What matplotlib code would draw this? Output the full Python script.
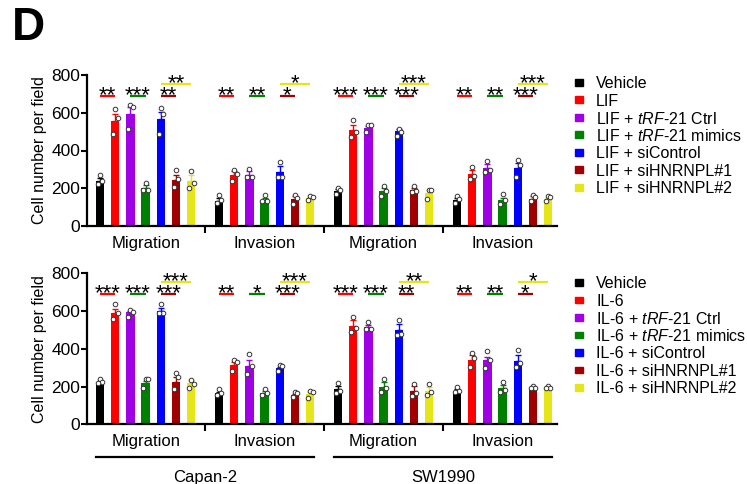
import matplotlib
matplotlib.use('Agg')
import matplotlib.pyplot as plt
import matplotlib.patches as patches
import matplotlib.transforms as mtransforms

plt.rcParams['font.family'] = ['Liberation Sans', 'DejaVu Sans']
plt.rcParams['mathtext.fontset'] = 'custom'
plt.rcParams['mathtext.rm'] = 'Liberation Sans'
plt.rcParams['mathtext.it'] = 'Liberation Sans:italic'

groups = ['Migration', 'Invasion', 'Migration', 'Invasion']
cell_lines = ['Capan-2', 'SW1990']
colors = ['#000000', '#FF0000', '#A000E6', '#008000', '#0000FF', '#A00000', '#E5E51A']

lif_labels = ['Vehicle', 'LIF', r'LIF + $\mathit{tRF}$-$\mathit{21}$ Ctrl',
              r'LIF + $\mathit{tRF}$-$\mathit{21}$ mimics', 'LIF + siControl',
              'LIF + siHNRNPL#1', 'LIF + siHNRNPL#2']
il6_labels = ['Vehicle', 'IL-6', r'IL-6 + $\mathit{tRF}$-$\mathit{21}$ Ctrl',
              r'IL-6 + $\mathit{tRF}$-$\mathit{21}$ mimics', 'IL-6 + siControl',
              'IL-6 + siHNRNPL#1', 'IL-6 + siHNRNPL#2']

# LIF panel (top): mean, error, individual points per group
lif_mean = [[239, 556, 593, 202, 566, 242, 239],
            [133, 269, 269, 140, 287, 143, 150],
            [186, 508, 520, 184, 503, 189, 175],
            [136, 274, 308, 136, 308, 145, 145]]
lif_err = [[15, 40, 40, 15, 40, 30, 30],
           [15, 20, 20, 10, 30, 15, 5],
           [10, 25, 8, 15, 10, 12, 15],
           [10, 22, 19, 10, 25, 12, 5]]
lif_dots = [[[272, 239, 225], [618, 570, 487], [641, 632, 513], [228, 189, 189],
             [623, 593, 490], [296, 251, 204], [290, 228, 202]],
            [[163, 136, 124], [299, 278, 239], [301, 257, 257], [163, 133, 133],
             [340, 257, 257], [163, 150, 115], [158, 154, 140]],
            [[202, 189, 172], [561, 496, 469], [535, 535, 496], [211, 184, 159],
             [513, 499, 476], [212, 184, 180], [193, 193, 145]],
            [[158, 145, 124], [313, 264, 248], [345, 299, 287], [168, 136, 119],
             [352, 322, 260], [166, 154, 131], [158, 154, 133]]]
lif_stars = [['**', '***', '**', '**'],
             ['**', '**', '*', '*'],
             ['***', '***', '***', '***'],
             ['**', '**', '***', '***']]

# IL-6 panel (bottom)
il6_mean = [[223, 588, 593, 221, 600, 223, 217],
            [164, 314, 309, 164, 297, 155, 161],
            [187, 521, 517, 200, 500, 177, 178],
            [178, 341, 341, 191, 337, 194, 194]]
il6_err = [[8, 25, 8, 10, 15, 25, 20],
           [8, 15, 30, 10, 8, 8, 8],
           [15, 30, 10, 25, 30, 25, 20],
           [10, 25, 15, 15, 30, 5, 5]]
il6_dots = [[[238, 226, 217], [637, 588, 556], [606, 597, 570], [240, 238, 191],
             [636, 592, 588], [270, 252, 185], [235, 214, 191]],
            [[185, 168, 155], [341, 332, 283], [373, 309, 267], [185, 168, 155],
             [314, 309, 284], [170, 164, 147], [177, 173, 141]],
            [[221, 177, 168], [567, 512, 491], [544, 505, 503], [238, 191, 170],
             [553, 479, 473], [214, 168, 150], [212, 173, 155]],
            [[200, 177, 170], [380, 353, 302], [389, 341, 297], [226, 182, 170],
             [394, 323, 302], [205, 194, 191], [205, 194, 191]]]
il6_stars = [['***', '***', '***', '***'],
             ['**', '*', '***', '***'],
             ['***', '***', '**', '**'],
             ['**', '**', '*', '*']]

GAP = 7.83
BAR_W = 0.55
DOT_DX = [0.0, 0.15, -0.15]
# (from bar, to bar, colour index, upper row?)
COMPARISONS = [(0, 1, 1, False), (2, 3, 3, False), (4, 5, 5, False), (4, 6, 6, True)]


def draw_panel(ax, means, errs, dots, stars, show_cells=False):
    for g in range(4):
        x0 = g * GAP
        for i in range(7):
            x = x0 + i
            ax.bar(x, means[g][i], width=BAR_W, color=colors[i], zorder=2)
            ax.errorbar(x, means[g][i], yerr=[[0], [errs[g][i]]], color=colors[i],
                        lw=1, capsize=2, capthick=1, zorder=1)
            for k, v in enumerate(dots[g][i]):
                ax.plot(x + DOT_DX[k], v, 'o', ms=3.3, mfc='white', mec='#333333',
                        mew=0.7, zorder=4)
        for (a, b, ci, upper), s in zip(COMPARISONS, stars[g]):
            ly = 752 if upper else 688
            ax.plot([x0 + a, x0 + b], [ly, ly], color=colors[ci], lw=1.6,
                    clip_on=False, solid_capstyle='butt')
            ax.text(x0 + (a + b) / 2, ly - 25, s,
                    ha='center', va='baseline', fontsize=16, clip_on=False)

    ax.set_xlim(-0.86, 30.07)
    ax.set_ylim(0, 800)
    ax.set_yticks([0, 200, 400, 600, 800])
    ax.set_xticks([g * GAP + 3 for g in range(4)])
    ax.set_xticklabels(groups, fontsize=12)
    ax.set_xticks([g * GAP + 6.5 + (GAP - 7) / 2 for g in range(3)], minor=True)
    ax.tick_params(axis='x', which='major', length=0, pad=7)
    ax.tick_params(axis='x', which='minor', length=5, width=1.5, direction='out')
    ax.tick_params(axis='y', length=4, width=1.5, labelsize=12.5, pad=1)
    ax.set_ylabel('Cell number per field', fontsize=11.5, labelpad=3)
    for side in ['top', 'right']:
        ax.spines[side].set_visible(False)
    for side in ['left', 'bottom']:
        ax.spines[side].set_linewidth(1.6)

    if show_cells:
        trans = mtransforms.blended_transform_factory(ax.transData, ax.transAxes)
        for c, name in enumerate(cell_lines):
            xa = 2 * c * GAP - BAR_W / 2
            xb = (2 * c + 1) * GAP + 6 + BAR_W / 2
            ax.plot([xa, xb], [-0.217, -0.217], color='black', lw=1.6,
                    transform=trans, clip_on=False)
            ax.text((xa + xb) / 2, -0.35, name, transform=trans, ha='center',
                    va='center', fontsize=12)


def draw_legend(fig, labels, y_top):
    for i, lab in enumerate(labels):
        yc = y_top + 17.5 * i
        fig.patches.append(patches.Rectangle((575 / 747, 1 - (yc + 3.5) / 484),
                                             7.5 / 747, 6.5 / 484, color=colors[i],
                                             transform=fig.transFigure))
        fig.text(596 / 747, 1 - yc / 484, lab, fontsize=11.5, va='center_baseline',
                 ha='left')


fig = plt.figure(figsize=(7.47, 4.84), dpi=100)
ax1 = fig.add_axes([87 / 747, 1 - 226 / 484, 470 / 747, 151 / 484])
ax2 = fig.add_axes([87 / 747, 1 - 424.3 / 484, 470 / 747, 151 / 484])

draw_panel(ax1, lif_mean, lif_err, lif_dots, lif_stars)
draw_panel(ax2, il6_mean, il6_err, il6_dots, il6_stars, show_cells=True)
draw_legend(fig, lif_labels, 82)
draw_legend(fig, il6_labels, 282)

fig.text(12 / 747, 1 - 28 / 484, 'D', fontsize=33, fontweight='bold', va='center')

fig.savefig('out.png', dpi=100)
